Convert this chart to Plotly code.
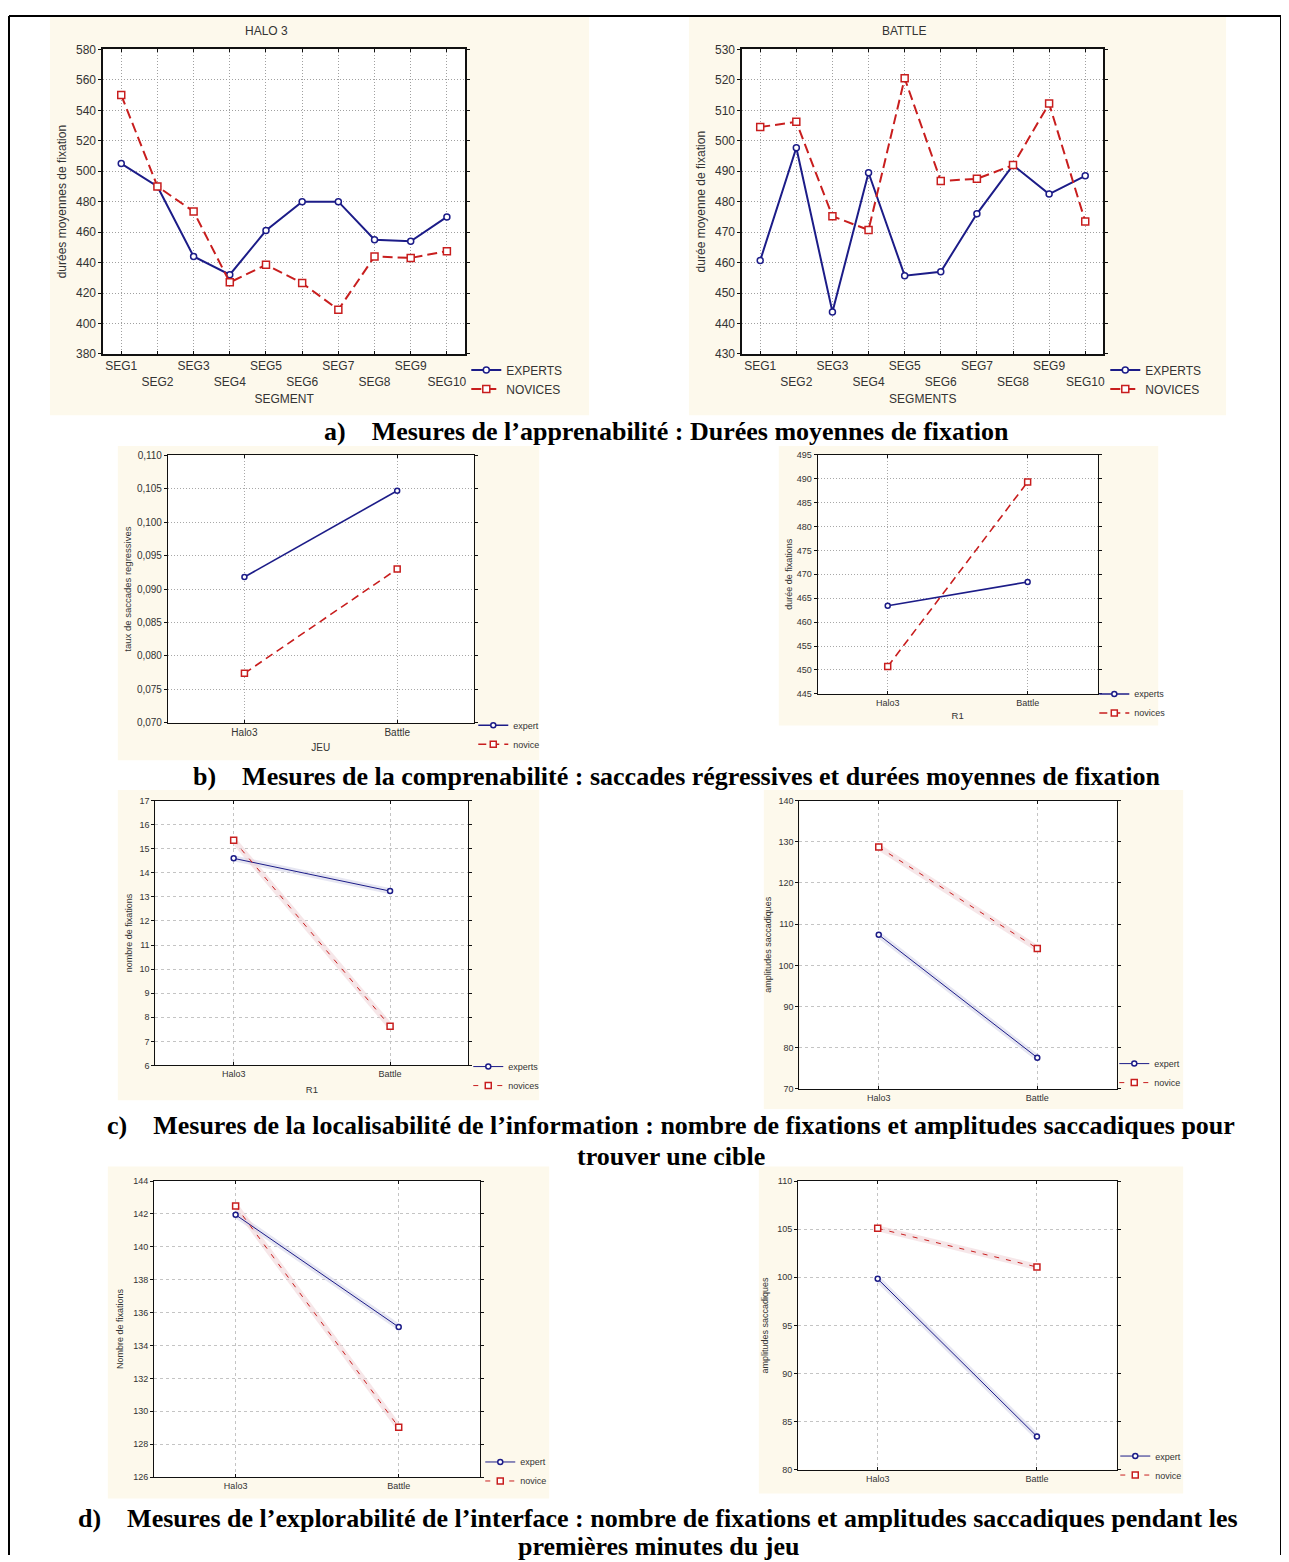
import plotly.graph_objects as go

# ---------------- data ----------------
segments = ["SEG1", "SEG2", "SEG3", "SEG4", "SEG5", "SEG6", "SEG7", "SEG8", "SEG9", "SEG10"]
halo_experts = [505, 490, 444, 432, 461, 480, 480, 455, 454, 470]
halo_novices = [550, 490, 473.5, 427, 438.5, 426.5, 409, 444, 443, 447.5]
battle_experts = [460.7, 497.7, 443.8, 489.5, 455.7, 457, 476, 492, 482.5, 488.5]
battle_novices = [504.5, 506.2, 475.2, 470.7, 520.5, 486.8, 487.5, 492, 512.2, 473.5]

games = ["Halo3", "Battle"]
regress_expert = [0.0918, 0.1047]
regress_novice = [0.0774, 0.0930]
fixdur_expert = [463.4, 468.4]
fixdur_novice = [450.7, 489.3]
target_nfix_expert = [14.6, 13.24]
target_nfix_novice = [15.35, 7.63]
target_amp_expert = [107.4, 77.6]
target_amp_novice = [128.7, 104.1]
explore_nfix_expert = [141.95, 135.12]
explore_nfix_novice = [142.49, 129.03]
explore_amp_expert = [99.84, 83.46]
explore_amp_novice = [105.09, 101.07]

captions = [
    ("a)\u00a0\u00a0\u00a0\u00a0Mesures de l\u2019apprenabilité : Durées moyennes de fixation", 668, 428),
    ("b)\u00a0\u00a0\u00a0\u00a0Mesures de la comprenabilité : saccades régressives et durées moyennes de fixation", 678, 776),
    ("c)\u00a0\u00a0\u00a0\u00a0Mesures de la localisabilité de l\u2019information : nombre de fixations et amplitudes saccadiques pour", 672, 1129),
    ("trouver une cible", 672, 1160),
    ("d)\u00a0\u00a0\u00a0\u00a0Mesures de l\u2019explorabilité de l\u2019interface : nombre de fixations et amplitudes saccadiques pendant les", 659, 1525),
    ("premières minutes du jeu", 660, 1553),
]

# ---------------- layout helpers ----------------
# the page body has an 8px margin: work in page pixels and convert
OFF = 8
W, H = 1289 - OFF, 1562 - OFF
def fx(px):
    return (px - OFF) / W
def fy(py):
    return 1 - (py - OFF) / H

NAVY = "#1c1c88"
RED = "#c81e1e"
FONT = "Liberation Sans"

panels = [
    dict(cats=segments, e=halo_experts, n=halo_novices, names=("EXPERTS", "NOVICES"),
         box=(103.3, 465.7, 42.7, 350), bg=(50, 590, 9, 412), yr=(380, 580), dt=20, tf="",
         xt="SEGMENT", yt="durées moyennes de fixation", title=("HALO 3", 267, 24),
         style="big", tick=12, tfont=12, ys=7, xs=7, leg=(467, 351.5)),
    dict(cats=segments, e=battle_experts, n=battle_novices, names=("EXPERTS", "NOVICES"),
         box=(743.3, 1105, 42.7, 350), bg=(690, 1228, 9, 412), yr=(430, 530), dt=10, tf="",
         xt="SEGMENTS", yt="durée moyenne de fixation", title=("BATTLE", 905, 24),
         style="big", tick=12, tfont=12, ys=7, xs=7, leg=(1107, 351.5)),
    dict(cats=games, e=regress_expert, n=regress_novice, names=("expert", "novice"),
         box=(168.3, 474.3, 452.3, 722.3), bg=(118, 540, 443, 760), yr=(0.070, 0.110), dt=0.005, tf=".3f",
         xt="JEU", yt="taux de saccades regressives", title=None,
         style="mid", tick=10, tfont=9.5, ys=3, xs=7, leg=(474, 710)),
    dict(cats=games, e=fixdur_expert, n=fixdur_novice, names=("experts", "novices"),
         box=(819, 1099.3, 451.7, 693), bg=(780, 1160, 443, 725), yr=(445, 495), dt=5, tf="",
         xt="R1", yt="durée de fixations", title=None,
         style="mid", tick=9, tfont=9, ys=2, xs=5, leg=(1096, 678.5)),
    dict(cats=games, e=target_nfix_expert, n=target_nfix_novice, names=("experts", "novices"),
         box=(155.7, 469, 800.7, 1068), bg=(118, 540, 790, 1103), yr=(6, 17), dt=1, tf="",
         xt="R1", yt="nombre de fixations", title=None,
         style="thin", tick=9, tfont=9, ys=5, xs=7, leg=(469, 1054.5)),
    dict(cats=games, e=target_amp_expert, n=target_amp_novice, names=("expert", "novice"),
         box=(800.7, 1118.3, 800.7, 1091.7), bg=(765, 1185, 790, 1112), yr=(70, 140), dt=10, tf="",
         xt="", yt="amplitudes saccadiques", title=None,
         style="thin", tick=9, tfont=9, ys=5, xs=5, leg=(1116, 1051.5)),
    dict(cats=games, e=explore_nfix_expert, n=explore_nfix_novice, names=("expert", "novice"),
         box=(154.3, 481, 1184.7, 1483.3), bg=(108, 550, 1170, 1505), yr=(126, 144), dt=2, tf="",
         xt="", yt="Nombre de fixations", title=None,
         style="thin", tick=9, tfont=9, ys=7, xs=5, leg=(481, 1453.5)),
    dict(cats=games, e=explore_amp_expert, n=explore_amp_novice, names=("expert", "novice"),
         box=(799.3, 1118.3, 1184.7, 1476), bg=(760, 1185, 1170, 1500), yr=(80, 110), dt=5, tf="",
         xt="", yt="amplitudes saccadiques", title=None,
         style="thin", tick=9, tfont=9, ys=6, xs=5, leg=(1117, 1447.5)),
]

styles = {
    "big": dict(w=2.0, dash="10px,5px", ms_e=6, ms_n=7, halo=False, grid="1px,2px", gc="#a0a0a0"),
    "mid": dict(w=1.6, dash="8px,5px", ms_e=5, ms_n=6, halo=False, grid="1px,2px", gc="#a8a8a8"),
    "thin": dict(w=1.0, dash="5px,7px", ms_e=5, ms_n=6, halo=True, grid="3px,3px", gc="#c4c4c4"),
}

fig = go.Figure()
layout = dict(
    width=W, height=H, margin=dict(l=0, r=0, t=0, b=0),
    paper_bgcolor="white", plot_bgcolor="white", separators=",.",
    font=dict(family=FONT, color="#333333"), showlegend=True,
)
shapes = []
annotations = []

for i, p in enumerate(panels):
    k = i + 1
    sx = "" if k == 1 else str(k)
    xa, ya = "x" + sx, "y" + sx
    legname = "legend" + sx
    st = styles[p["style"]]
    x0, x1, y0, y1 = p["box"]
    bx0, bx1, by0, by1 = p["bg"]

    # cream panel background and white plotting area
    shapes.append(dict(type="rect", xref="paper", yref="paper", x0=fx(bx0), x1=fx(bx1),
                       y0=fy(by1), y1=fy(by0), fillcolor="#fdf9ec", line=dict(width=0), layer="below"))
    shapes.append(dict(type="rect", xref=xa + " domain", yref=ya + " domain", x0=0, x1=1, y0=0, y1=1,
                       fillcolor="white", line=dict(width=0), layer="below"))

    if st["halo"]:
        fig.add_trace(go.Scatter(x=p["cats"], y=p["e"], xaxis=xa, yaxis=ya, mode="lines",
                                 line=dict(color="rgba(205,205,230,0.5)", width=6),
                                 showlegend=False, hoverinfo="skip"))
        fig.add_trace(go.Scatter(x=p["cats"], y=p["n"], xaxis=xa, yaxis=ya, mode="lines",
                                 line=dict(color="rgba(238,205,210,0.5)", width=6),
                                 showlegend=False, hoverinfo="skip"))

    fig.add_trace(go.Scatter(
        x=p["cats"], y=p["e"], xaxis=xa, yaxis=ya, name=p["names"][0], legend=legname,
        mode="lines+markers", line=dict(color=NAVY, width=st["w"]),
        marker=dict(symbol="circle", size=st["ms_e"], color="white", line=dict(color=NAVY, width=1.5)),
    ))
    fig.add_trace(go.Scatter(
        x=p["cats"], y=p["n"], xaxis=xa, yaxis=ya, name=p["names"][1], legend=legname,
        mode="lines+markers", line=dict(color=RED, width=st["w"], dash=st["dash"]),
        marker=dict(symbol="square", size=st["ms_n"], color="white", line=dict(color=RED, width=1.5)),
    ))

    nc = len(p["cats"])
    if nc > 2:
        ticktext = [c if j % 2 == 0 else "<br>" + c for j, c in enumerate(p["cats"])]
    else:
        ticktext = list(p["cats"])

    lw = 1.5 if p["style"] == "big" else 1.2
    layout["xaxis" + sx] = dict(
        domain=[fx(x0), fx(x1)], anchor=ya, type="category", range=[-0.5, nc - 0.5],
        tickvals=p["cats"], ticktext=ticktext, tickangle=0,
        showline=True, mirror="ticks", linecolor="#111111", linewidth=lw,
        showgrid=True, gridcolor=st["gc"], griddash=st["grid"], gridwidth=1,
        ticks="inside", ticklen=3, tickcolor="#111111", zeroline=False,
        tickfont=dict(size=p["tick"], color="#333333", family=FONT),
        title=dict(text=p["xt"], font=dict(size=p["tfont"] + (0 if p["style"] == "big" else 0.5), color="#333333"),
                   standoff=p["xs"]),
    )
    layout["yaxis" + sx] = dict(
        domain=[fy(y1), fy(y0)], anchor=xa, range=list(p["yr"]), dtick=p["dt"], tick0=p["yr"][0],
        tickformat=p["tf"], showline=True, mirror="ticks", linecolor="#111111", linewidth=lw,
        showgrid=True, gridcolor=st["gc"], griddash=st["grid"], gridwidth=1,
        ticks="outside", ticklen=3, tickcolor="#111111", zeroline=False,
        tickfont=dict(size=p["tick"], color="#333333", family=FONT),
        title=dict(text=p["yt"], font=dict(size=p["tfont"], color="#333333"), standoff=p["ys"]),
    )
    lx, ly = p["leg"]
    layout[legname] = dict(
        x=fx(lx), y=fy(ly), xanchor="left", yanchor="top", bgcolor="rgba(0,0,0,0)",
        borderwidth=0, itemwidth=30,
        font=dict(size=12 if p["style"] == "big" else 9, color="#333333", family=FONT),
    )
    if p["title"]:
        t, tx, ty = p["title"]
        annotations.append(dict(text=t, x=fx(tx), y=fy(ty), xref="paper", yref="paper",
                                showarrow=False, xanchor="center", yanchor="middle",
                                font=dict(size=12, color="#333333", family=FONT)))

for text, cx, cy in captions:
    annotations.append(dict(text="<b>" + text + "</b>", x=fx(cx), y=fy(cy), xref="paper", yref="paper",
                            showarrow=False, xanchor="center", yanchor="middle",
                            font=dict(size=26, color="black", family="Liberation Serif")))

# outer frame
shapes.append(dict(type="line", xref="paper", yref="paper", x0=fx(9), x1=fx(9), y0=0, y1=fy(9),
                   line=dict(color="black", width=2)))
shapes.append(dict(type="line", xref="paper", yref="paper", x0=fx(9), x1=fx(1283), y0=fy(9), y1=fy(9),
                   line=dict(color="black", width=2)))
shapes.append(dict(type="line", xref="paper", yref="paper", x0=fx(1283), x1=fx(1283), y0=0, y1=fy(9),
                   line=dict(color="black", width=2)))

layout["shapes"] = shapes
layout["annotations"] = annotations
fig.update_layout(**layout)
fig.write_html("out.html")
